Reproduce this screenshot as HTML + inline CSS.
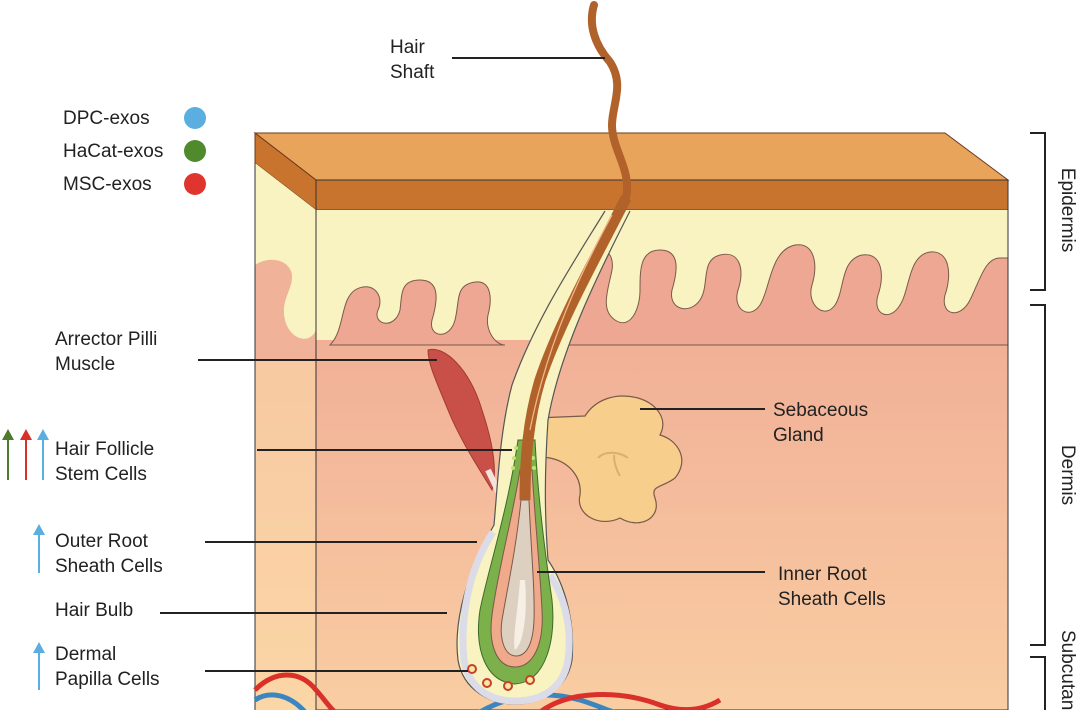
<!DOCTYPE html>
<html><head><meta charset="utf-8"><style>
html,body{margin:0;padding:0;background:#fff;width:1080px;height:710px;overflow:hidden}
svg text{font-family:"Liberation Sans",sans-serif;fill:#222}
</style></head><body>
<svg width="1080" height="710" viewBox="0 0 1080 710" xmlns="http://www.w3.org/2000/svg">
<defs>
<linearGradient id="derm" x1="0" y1="0" x2="0" y2="1">
<stop offset="0" stop-color="#eea792"/><stop offset="0.45" stop-color="#f3b79a"/><stop offset="1" stop-color="#f9cda2"/>
</linearGradient>
<linearGradient id="side" x1="0" y1="0" x2="0" y2="1">
<stop offset="0" stop-color="#f6c2a0"/><stop offset="1" stop-color="#fbd6a6"/>
</linearGradient>
<clipPath id="front"><rect x="316" y="210" width="692" height="500"/></clipPath>
<clipPath id="sidec"><polygon points="255,163 316,210 316,710 255,710"/></clipPath>
</defs>

<polygon points="255,133 945,133 1008,180 316,180" fill="#e9a45c" stroke="#6b3a1a" stroke-width="1"/>
<rect x="316" y="180" width="692" height="30" fill="#c8742f" stroke="#6b3a1a" stroke-width="1"/>
<polygon points="255,133 316,180 316,210 255,163" fill="#c8742f" stroke="#6b3a1a" stroke-width="1"/>

<g clip-path="url(#sidec)">
<rect x="255" y="160" width="61" height="560" fill="url(#side)"/>
<rect x="255" y="160" width="61" height="190" fill="#f8f3c0"/>
<path d="M255,265 C270,255 290,260 292,275 C293,290 280,300 285,320 C290,340 310,345 316,330 L316,360 L255,360Z" fill="#f0b39a"/>
</g>
<line x1="255" y1="163" x2="255" y2="710" stroke="#333" stroke-width="1"/>
<line x1="316" y1="210" x2="316" y2="710" stroke="#333" stroke-width="1"/>

<g clip-path="url(#front)">
<rect x="316" y="210" width="692" height="500" fill="url(#derm)"/>
<rect x="316" y="210" width="692" height="130" fill="#f8f3c0"/>
<g fill="#eea792" stroke="#7a5a4a" stroke-width="1">
<path d="M330,345 C345,330 340,300 355,290 C372,280 385,295 378,310 C372,325 395,330 400,310 C402,295 400,280 420,280 C440,280 438,300 432,320 C428,338 450,340 455,320 C460,300 455,285 475,282 C492,280 492,300 488,315 C485,330 495,345 505,345 Z"/>
<path d="M560,345 C570,320 575,270 590,255 C600,245 615,250 612,270 C608,290 600,310 615,320 C630,330 640,310 640,290 C640,270 640,250 660,250 C680,250 678,270 672,290 C668,310 690,315 700,300 C710,285 700,260 720,255 C740,250 745,270 738,290 C732,310 750,320 760,305 C770,290 770,250 795,245 C815,242 818,265 812,285 C806,305 825,320 835,305 C845,290 840,260 862,255 C882,252 885,275 878,295 C872,315 890,322 900,305 C910,290 908,255 930,252 C950,250 952,275 945,295 C940,315 960,320 970,300 C980,280 985,258 1000,258 L1010,258 L1010,345 Z"/>
</g>
</g>
<rect x="316" y="180" width="692" height="530" fill="none" stroke="#333" stroke-width="1"/>

<g fill="none" stroke-width="5">
<path d="M255,690 C275,670 300,670 316,690 C325,700 330,708 335,712" stroke="#d9302a"/>
<path d="M255,700 C270,690 290,695 305,712" stroke="#3a86c0"/>
<path d="M480,712 C510,695 545,690 580,700 C600,706 610,712 615,712" stroke="#3a86c0"/>
<path d="M540,712 C570,690 620,690 660,705 C680,712 700,712 720,700" stroke="#d9302a"/>
</g>

<path d="M535,418 L585,416 C595,400 615,392 638,398 C658,404 668,420 660,435 C678,440 690,460 675,478 C662,488 650,485 655,498 C662,518 640,530 620,518 C600,528 575,515 580,495 C582,478 570,462 550,458 L535,456 Z" fill="#f7ce8b" stroke="#7a5a4a" stroke-width="1.2"/>
<path d="M598,458 C605,450 620,452 628,458 M614,455 C614,463 617,471 620,476" stroke="#d8b070" fill="none" stroke-width="2"/>

<path d="M428,350 C445,345 470,370 482,410 C492,440 498,470 492,490 C480,470 460,440 448,410 C438,385 428,365 428,350 Z" fill="#c95048" stroke="#a33a33" stroke-width="1"/>
<path d="M488,470 L500,495" stroke="#f3e3dc" stroke-width="6"/>

<path d="M630,211 C600,270 560,350 548,420 C544,480 545,520 548,560 C565,585 575,620 572,660 C567,690 540,704 515,704 C490,704 463,690 458,660 C453,620 468,570 494,525 C498,480 500,430 512,385 C535,320 575,260 605,211" fill="#f8f3c0" stroke="#555" stroke-width="1.2"/>
<path d="M493,532 C468,570 460,620 464,660 C469,690 492,701 515,701 C540,701 563,690 568,660 C572,630 566,600 550,575" fill="none" stroke="#dcdce8" stroke-width="7"/>
<path d="M518,440 L535,440 C538,500 546,560 552,600 C556,640 546,682 515,684 C486,682 474,650 480,610 C488,570 508,510 518,440 Z" fill="#7bb04a" stroke="#3d6b2a" stroke-width="1"/>
<path d="M520,470 L532,470 C535,520 540,570 542,610 C544,645 533,667 515,667 C497,667 488,645 492,615 C498,570 512,520 520,470 Z" fill="#f0a98a" stroke="#7a5a4a" stroke-width="1"/>
<path d="M521,500 L529,500 C531,550 535,590 534,620 C533,645 526,656 516,656 C505,656 499,640 502,620 C507,590 516,550 521,500 Z" fill="#ddd0c0" stroke="#7a5a4a" stroke-width="1"/>
<path d="M520,580 C518,610 512,640 515,650 C522,645 528,620 525,580Z" fill="#f5efe5"/>
<g fill="#f6e8a0" stroke="#c7402c" stroke-width="2">
<circle cx="472" cy="669" r="4"/><circle cx="487" cy="683" r="4"/><circle cx="508" cy="686" r="4"/><circle cx="530" cy="680" r="4"/>
</g>
<g fill="#c8e070"><circle cx="516" cy="448" r="2"/><circle cx="514" cy="458" r="2"/><circle cx="513" cy="468" r="2"/><circle cx="533" cy="458" r="2"/><circle cx="534" cy="468" r="2"/></g>

<path d="M594,5 C588,25 595,45 610,62 C625,85 612,105 612,125 C612,150 632,170 626,198" fill="none" stroke="#b0622a" stroke-width="8" stroke-linecap="round"/>
<path d="M626,198 C600,250 560,320 540,380 C528,420 525,460 525,500" fill="none" stroke="#b0622a" stroke-width="11"/>
<path d="M612,215 C582,270 548,340 530,430" stroke="#f2b58a" stroke-width="1.3" fill="none"/>

<g stroke="#222" stroke-width="2">
<line x1="452" y1="58" x2="605" y2="58"/>
<line x1="198" y1="360" x2="437" y2="360"/>
<line x1="257" y1="450" x2="512" y2="450"/>
<line x1="205" y1="542" x2="477" y2="542"/>
<line x1="160" y1="613" x2="447" y2="613"/>
<line x1="205" y1="671" x2="468" y2="671"/>
<line x1="640" y1="409" x2="765" y2="409"/>
<line x1="537" y1="572" x2="765" y2="572"/>
</g>

<g stroke="#222" stroke-width="2" fill="none">
<path d="M1030,133 L1045,133 L1045,290 L1030,290"/>
<path d="M1030,305 L1045,305 L1045,645 L1030,645"/>
<path d="M1030,657 L1045,657 L1045,712"/>
</g>
<g font-size="19">
<text transform="translate(1062,210) rotate(90)" text-anchor="middle">Epidermis</text>
<text transform="translate(1062,475) rotate(90)" text-anchor="middle">Dermis</text>
<text transform="translate(1062,630) rotate(90)">Subcutan</text>
</g>

<g font-size="19">
<text x="63" y="124">DPC-exos</text>
<text x="63" y="157">HaCat-exos</text>
<text x="63" y="190">MSC-exos</text>
<text x="390" y="53">Hair</text><text x="390" y="78">Shaft</text>
<text x="55" y="345">Arrector Pilli</text><text x="55" y="370">Muscle</text>
<text x="55" y="455">Hair Follicle</text><text x="55" y="480">Stem Cells</text>
<text x="55" y="547">Outer Root</text><text x="55" y="572">Sheath Cells</text>
<text x="55" y="616">Hair Bulb</text>
<text x="55" y="660">Dermal</text><text x="55" y="685">Papilla Cells</text>
<text x="773" y="416">Sebaceous</text><text x="773" y="441">Gland</text>
<text x="778" y="580">Inner Root</text><text x="778" y="605">Sheath Cells</text>
</g>
<circle cx="195" cy="118" r="11" fill="#5aaee0"/>
<circle cx="195" cy="151" r="11" fill="#4f8a2c"/>
<circle cx="195" cy="184" r="11" fill="#e0352e"/>

<g stroke-width="2">
<line x1="8" y1="480" x2="8" y2="436" stroke="#4f7a2c"/><polygon points="2,440 8,429 14,440" fill="#4f7a2c"/>
<line x1="26" y1="480" x2="26" y2="436" stroke="#d9302a"/><polygon points="20,440 26,429 32,440" fill="#d9302a"/>
<line x1="43" y1="480" x2="43" y2="436" stroke="#5aaee0"/><polygon points="37,440 43,429 49,440" fill="#5aaee0"/>
<line x1="39" y1="573" x2="39" y2="532" stroke="#5aaee0"/><polygon points="33,535 39,524 45,535" fill="#5aaee0"/>
<line x1="39" y1="690" x2="39" y2="650" stroke="#5aaee0"/><polygon points="33,653 39,642 45,653" fill="#5aaee0"/>
</g>
</svg>
</body></html>
